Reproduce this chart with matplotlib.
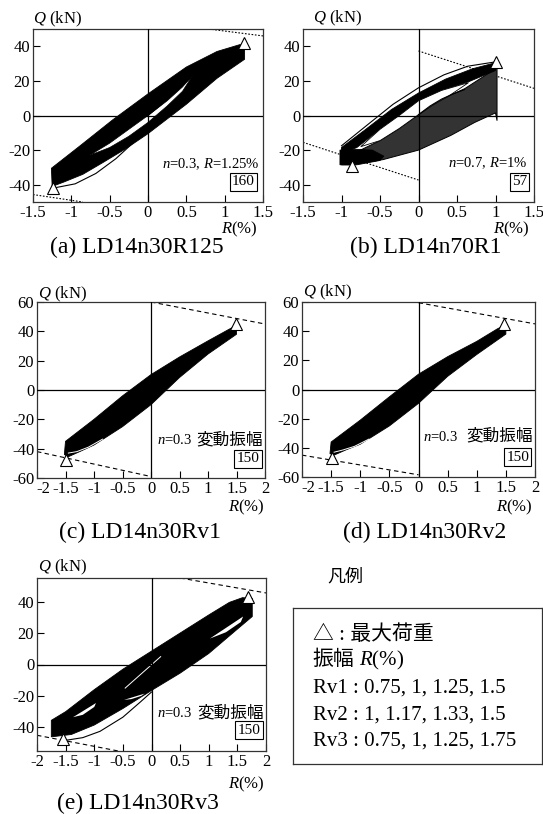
import matplotlib.pyplot as plt
from matplotlib.transforms import ScaledTranslation

plt.rcParams['font.family'] = ['Liberation Serif', 'Noto Sans CJK JP']
plt.rcParams['mathtext.fontset'] = 'custom'
plt.rcParams['mathtext.rm'] = 'Liberation Serif'
plt.rcParams['mathtext.it'] = 'Liberation Serif:italic'
plt.rcParams['axes.unicode_minus'] = False

W, H = 543, 814

# -----------------------------
# (a) LD14n30R125
# -----------------------------
a_outer_R = [-1.25, -1.26, -0.9, -0.46, 0.0, 0.5, 0.9, 1.2, 1.26, 1.26, 0.9, 0.5, 0.25, 0.0, -0.3, -0.6, -0.85, -1.1]
a_outer_Q = [-41, -30.5, -18, -2.5, 12.5, 28, 37, 41, 40, 32.5, 21.5, 6.5, -2, -10.5, -19.5, -27.5, -34, -38.5]
a_hole_R = [-0.76, -0.5, -0.25, 0.0, 0.25, 0.45, 0.58, 0.45, 0.25, 0.0, -0.25, -0.5]
a_hole_Q = [-23, -16, -8, 0, 8.5, 16.5, 23, 14, 5.5, -4, -12, -18.5]
a_thin_R = [[-1.24, -0.95, -0.68, -0.42, -0.15, 0.0], [0.0, 0.15, 0.3, 0.45, 0.57]]
a_thin_Q = [[-42, -39.5, -33.5, -25, -14, -9.5], [0.0, 5.5, 11.5, 17.5, 22.5]]
a_peak_R = [1.25, -1.245]
a_peak_Q = [42, -42]
a_pd_R = [[0.79, 1.5], [-1.5, -0.85]]
a_pd_Q = [[50, 46], [-45.7, -50]]

# -----------------------------
# (b) LD14n70R1
# -----------------------------
b_fan_R = [1.0, 0.6, 0.4, 0.2, 0.0, -0.25, -0.5, -0.8, -1.0, -1.0, -0.9, -0.46, 0.0, 0.42, 0.73, 1.0, 1.02, 1.02]
b_fan_Q = [27, 15.5, 11.5, 6.5, 0.5, -7.5, -14.5, -21, -22, -28.5, -28.5, -25.5, -20, -11.5, -4, 1.5, -3, 28]
b_band_R = [-1.0, -0.7, -0.35, 0.0, 0.35, 0.7, 1.0, 1.0, 0.65, 0.3, 0.0, -0.25, -0.5, -0.8, -1.0]
b_band_Q = [-18.5, -8.5, 3.5, 13, 21, 27, 30.5, 26, 19.5, 14.5, 8.5, 0, -8, -18.5, -22]
b_hole_R = [-0.75, -0.5, -0.25, 0.0, 0.3, 0.65, 0.4, 0.2, 0.0, -0.25, -0.5]
b_hole_Q = [-18, -8, 0, 8.5, 14.5, 19, 11.5, 6.5, 0.5, -7.5, -14.5]
b_knot_R = [-1.02, -0.85, -0.6, -0.45, -0.5, -0.8, -1.02]
b_knot_Q = [-20, -19.5, -20, -23.5, -26, -28.5, -28.5]
b_thin_R = [[-1.0, -0.68, -0.33, 0.0, 0.33, 0.64, 1.0], [0.0, 0.15, 0.3, 0.45, 0.6]]
b_thin_Q = [[-17.5, -6, 6.5, 16, 23.5, 28.5, 31], [0.5, 5.5, 9.5, 12.5, 15]]
b_peak_R = [1.01, -0.86]
b_peak_Q = [31, -29]
b_pd_R = [[0.0, 1.5], [-1.5, 0.0]]
b_pd_Q = [[37.3, 15.7], [-15.5, -37.3]]

# -----------------------------
# (c) LD14n30Rv1
# -----------------------------
c_outer_R = [-1.5, -1.0, -0.5, 0.0, 0.5, 1.0, 1.35, 1.47, 1.5, 1.5, 1.0, 0.5, 0.0, -0.5, -1.0, -1.25, -1.45, -1.52]
c_outer_Q = [-35, -20, -4, 10.5, 22.5, 33.5, 41, 43.5, 42.5, 38, 24.5, 8.5, -10, -25, -37.5, -42, -45.5, -44]
c_gap_R = [-1.45, -1.3, -1.1, -0.85]
c_gap_Q = [-43, -42, -39, -33.5]
c_peak_R = [1.49, -1.5]
c_peak_Q = [45, -47.5]
c_pd_R = [[0.0, 2.0], [-2.0, 0.0]]
c_pd_Q = [[60, 45], [-42, -59]]

# -----------------------------
# (d) LD14n30Rv2
# -----------------------------
d_outer_R = [-1.5, -1.0, -0.5, 0.0, 0.5, 1.0, 1.35, 1.45, 1.5, 1.5, 1.0, 0.5, 0.0, -0.5, -1.0, -1.25, -1.45, -1.52]
d_outer_Q = [-36, -21, -5, 10.5, 22.5, 33, 41.5, 43.5, 42.5, 38, 24, 9, -9.5, -25, -37.5, -41.5, -45, -44]
d_gap_R = [-1.45, -1.3, -1.1, -0.85]
d_gap_Q = [-43, -41.5, -39, -34]
d_peak_R = [1.47, -1.48]
d_peak_Q = [45, -47]
d_pd_R = [[0.0, 2.0], [-2.0, 0.0]]
d_pd_Q = [[59.5, 45], [-45, -58.5]]

# -----------------------------
# (e) LD14n30Rv3
# -----------------------------
e_outer_R = [-1.75, -1.5, -1.0, -0.5, 0.0, 0.5, 1.0, 1.36, 1.59, 1.76, 1.76, 1.5, 1.0, 0.5, 0.0, -0.5, -1.0, -1.4, -1.75]
e_outer_Q = [-35.5, -30, -16, -3, 8.5, 20, 31.5, 39.5, 42.5, 42, 30.5, 22.5, 7, -5.5, -16.5, -28, -38.5, -44.5, -46]
e_holes_R = [[0.03, 0.33, 0.3, 0.12], [1.02, 1.6, 1.56, 1.3], [-0.48, -0.12, -0.18, -0.35], [-1.37, -0.97, -1.0, -1.2]]
e_holes_Q = [[12.5, 19, 16.5, 12], [16.5, 30.5, 27, 20.5], [-22.5, -18.5, -20, -22], [-33.5, -24.5, -27, -32]]
e_thin_R = [-1.55, -1.2, -0.9, -0.5, -0.2, 0.0]
e_thin_Q = [-48.5, -46.5, -42.5, -33.5, -24, -17.5]
e_gap_R = [-0.46, 0.16]
e_gap_Q = [-15, 5]
e_peak_R = [1.68, -1.55]
e_peak_Q = [43, -47.5]
e_pd_R = [[0.5, 2.0], [-2.0, -0.58]]
e_pd_Q = [[55, 45.5], [-45, -55]]

# axis ticks
ticks_R15 = [-1.5, -1, -0.5, 0, 0.5, 1, 1.5]
ticks_R2 = [-2, -1.5, -1, -0.5, 0, 0.5, 1, 1.5, 2]
ticks_Q40 = [-40, -20, 0, 20, 40]
ticks_Q60 = [-60, -40, -20, 0, 20, 40, 60]

captions = ['(a) LD14n30R125', '(b) LD14n70R1', '(c) LD14n30Rv1', '(d) LD14n30Rv2', '(e) LD14n30Rv3']
legend_lines = ['Rv1 : 0.75, 1, 1.25, 1.5', 'Rv2 : 1, 1.17, 1.33, 1.5', 'Rv3 : 0.75, 1, 1.25, 1.75']

fig = plt.figure(figsize=(W / 100, H / 100), dpi=100)


def px_axes(x0, x1, y0, y1):
    return fig.add_axes([x0 / W, 1 - y1 / H, (x1 - x0) / W, (y1 - y0) / H])


def ftext(x, y, s, **kw):
    fig.text(x / W, 1 - y / H, s, **kw)


def setup(ax, xlim, ylim, xt, yt):
    ax.set_xlim(xlim)
    ax.set_ylim(ylim)
    ax.set_xticks(xt)
    ax.set_xticklabels(['%g' % v for v in xt])
    ax.set_yticks(yt)
    ax.set_yticklabels(['%g' % v for v in yt])
    ax.tick_params(direction='in', length=5, width=0.8, labelsize=12, pad=2)
    for s in ax.spines.values():
        s.set_linewidth(0.9)
        s.set_color('#333333')
    ax.axhline(0, color='k', lw=0.9, zorder=4.5)
    ax.axvline(0, color='k', lw=0.9, zorder=4.5)


def nudge_first_xlabel(ax, dx_px):
    # the "-2" label sits a bit to the right of the "-60" label in the original
    lab = ax.get_xticklabels()[0]
    lab.set_transform(lab.get_transform() + ScaledTranslation(dx_px / 100, 0, fig.dpi_scale_trans))


def pdelta(ax, rr, qq, ls):
    for r, q in zip(rr, qq):
        ax.plot(r, q, color='k', lw=0.8, ls=ls, zorder=2)


def peaks(ax, r, q):
    ax.plot(r, q, ls='none', marker='^', ms=8, mfc='white', mec='k', mew=0.8, zorder=6)


def boxed(ax, x, y, num):
    ax.text(x, y, num, transform=ax.transAxes, ha='right', va='center', fontsize=11, zorder=7,
            bbox=dict(boxstyle='square,pad=0.15', fc='white', ec='k', lw=0.8))


def note(ax, txt_n, cjk, num, xn, y_txt, y_num):
    ax.text(xn, y_txt, txt_n, transform=ax.transAxes, ha='right', va='center', fontsize=10.5, zorder=7)
    ax.text(0.99, y_txt, cjk, transform=ax.transAxes, ha='right', va='center', fontsize=12, zorder=7)
    boxed(ax, 0.975, y_num, num)


# -----------------------------
# Panel (a)
# -----------------------------
ax = px_axes(33, 263, 29, 202)
setup(ax, (-1.5, 1.5), (-50, 50), ticks_R15, ticks_Q40)
ax.fill(a_outer_R, a_outer_Q, color='k', lw=0.6, zorder=3)
ax.fill(a_hole_R, a_hole_Q, fc='white', ec='k', lw=0.5, zorder=4)
for r, q in zip(a_thin_R, a_thin_Q):
    ax.plot(r, q, color='k', lw=0.8, zorder=5)
pdelta(ax, a_pd_R, a_pd_Q, (0, (1.5, 1.5)))
peaks(ax, a_peak_R, a_peak_Q)
ax.text(0.985, 0.22, '$n$=0.3, $R$=1.25%', transform=ax.transAxes, ha='right', va='center', fontsize=10.5, zorder=7)
boxed(ax, 0.965, 0.116, '160')

# -----------------------------
# Panel (b)
# -----------------------------
ax = px_axes(303, 534, 29, 202)
setup(ax, (-1.5, 1.5), (-50, 50), ticks_R15, ticks_Q40)
ax.fill(b_fan_R, b_fan_Q, fc='#333333', ec='k', lw=0.7, zorder=3)
ax.fill(b_band_R, b_band_Q, color='k', lw=0.6, zorder=4)
ax.fill(b_hole_R, b_hole_Q, fc='white', ec='k', lw=0.6, zorder=4)
ax.fill(b_knot_R, b_knot_Q, color='k', lw=0.6, zorder=4)
for r, q in zip(b_thin_R, b_thin_Q):
    ax.plot(r, q, color='k', lw=0.8, zorder=5)
pdelta(ax, b_pd_R, b_pd_Q, (0, (1.5, 1.5)))
peaks(ax, b_peak_R, b_peak_Q)
ax.text(0.97, 0.225, '$n$=0.7, $R$=1%', transform=ax.transAxes, ha='right', va='center', fontsize=10.5, zorder=7)
boxed(ax, 0.97, 0.116, '57')

# -----------------------------
# Panel (c)
# -----------------------------
ax = px_axes(37, 265, 302, 478)
setup(ax, (-2, 2), (-60, 60), ticks_R2, ticks_Q60)
nudge_first_xlabel(ax, 6)
ax.fill(c_outer_R, c_outer_Q, color='k', lw=0.6, zorder=3)
ax.plot(c_gap_R, c_gap_Q, color='white', lw=0.7, zorder=4)
pdelta(ax, c_pd_R, c_pd_Q, (0, (4, 3)))
peaks(ax, c_peak_R, c_peak_Q)
note(ax, '$n$=0.3', '変動振幅', '150', 0.68, 0.216, 0.108)

# -----------------------------
# Panel (d)
# -----------------------------
ax = px_axes(302, 535, 302, 477)
setup(ax, (-2, 2), (-60, 60), ticks_R2, ticks_Q60)
nudge_first_xlabel(ax, 6)
ax.fill(d_outer_R, d_outer_Q, color='k', lw=0.6, zorder=3)
ax.plot(d_gap_R, d_gap_Q, color='white', lw=0.7, zorder=4)
pdelta(ax, d_pd_R, d_pd_Q, (0, (4, 3)))
peaks(ax, d_peak_R, d_peak_Q)
note(ax, '$n$=0.3', '変動振幅', '150', 0.67, 0.229, 0.114)

# -----------------------------
# Panel (e)
# -----------------------------
ax = px_axes(37, 266, 578, 751)
setup(ax, (-2, 2), (-55, 55), ticks_R2, ticks_Q40)
ax.fill(e_outer_R, e_outer_Q, color='k', lw=0.6, zorder=3)
for r, q in zip(e_holes_R, e_holes_Q):
    ax.fill(r, q, color='white', lw=0, zorder=4)
ax.plot(e_gap_R, e_gap_Q, color='white', lw=0.7, zorder=4)
ax.plot(e_thin_R, e_thin_Q, color='k', lw=0.8, zorder=5)
pdelta(ax, e_pd_R, e_pd_Q, (0, (4, 3)))
peaks(ax, e_peak_R, e_peak_Q)
note(ax, '$n$=0.3', '変動振幅', '150', 0.68, 0.22, 0.12)

# -----------------------------
# axis titles and captions
# -----------------------------
for x, y in [(33, 23), (313, 22), (38, 298), (303, 296), (38, 571)]:
    ftext(x, y, '$Q$ (kN)', fontsize=12, va='baseline')
for x, y in [(258, 233), (530, 233), (265, 511), (533, 511), (265, 788)]:
    ftext(x, y, '$R$(%)', fontsize=12, ha='right', va='baseline')
for (x, y), cap in zip([(137, 253), (426, 253), (140, 538), (425, 538), (138, 809)], captions):
    ftext(x, y, cap, fontsize=17, ha='center', va='baseline')

# -----------------------------
# legend box
# -----------------------------
ftext(327, 577, '凡例', fontsize=13, va='center')
lg = px_axes(293, 542, 608, 764)
lg.set_xticks([])
lg.set_yticks([])
for s in lg.spines.values():
    s.set_linewidth(0.9)
    s.set_color('#333333')


def ly(y):
    return (764 - y) / 156


lg.text(0.08, ly(635), '△ : 最大荷重', fontsize=15, va='center', transform=lg.transAxes)
lg.text(0.08, ly(660), '振幅', fontsize=15, va='center', transform=lg.transAxes)
lg.text(0.265, ly(660), '$R$(%)', fontsize=15, va='center', transform=lg.transAxes)
for y, s in zip([688, 715, 741], legend_lines):
    lg.text(0.08, ly(y), s, fontsize=15, va='center', transform=lg.transAxes)

plt.savefig('out.png', dpi=100)
